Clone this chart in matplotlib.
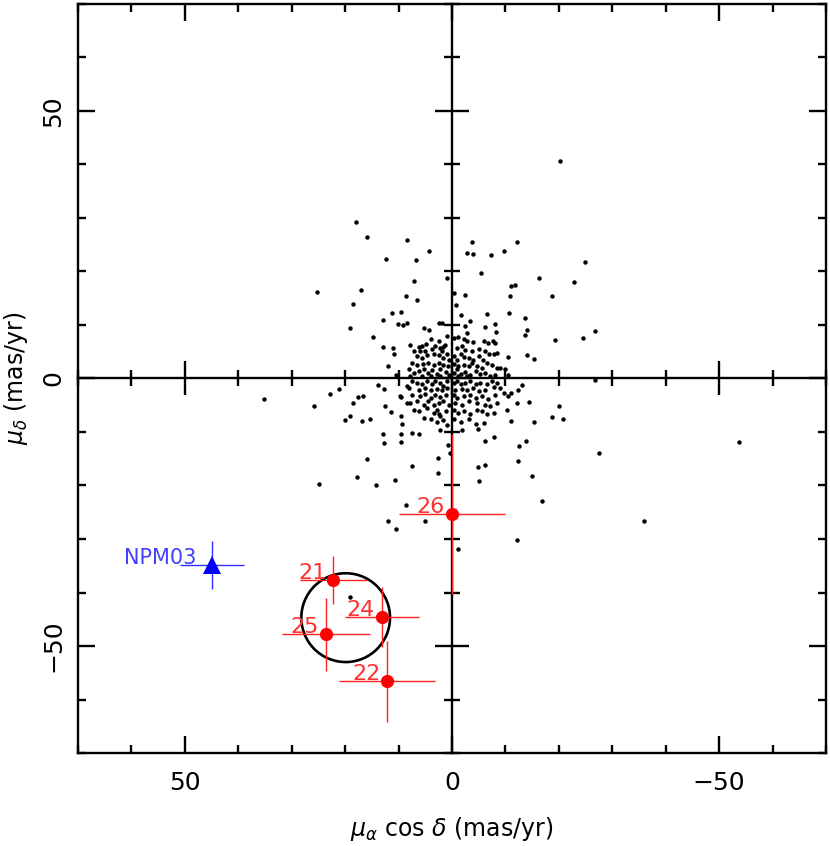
import numpy as np
import matplotlib
matplotlib.use('Agg')
from matplotlib import pyplot as plt
from matplotlib.patches import Circle
from matplotlib.ticker import MultipleLocator

# field stars (pmra cos dec, pmdec) in mas/yr
field_stars = [
    # outer field
    (17.9, 29.2), (16.0, 26.4), (8.5, 25.9), (4.3, 23.8), (12.3, 22.4), (6.7, 22.1),
    (1.0, 18.8), (7.1, 18.2), (25.3, 16.2), (17.0, 16.6), (-0.4, 16.0), (8.7, 15.4),
    (6.6, 14.7), (18.6, 13.9), (-0.7, 13.8), (11.3, 12.2), (9.5, 12.5), (13.0, 10.9),
    (10.1, 10.1), (9.2, 10.0), (8.5, 10.4), (19.1, 9.5), (5.2, 9.4), (4.3, 9.1),
    (2.4, 10.3), (1.9, 10.4), (14.8, 7.8), (12.9, 5.8), (11.0, 5.7), (10.8, 4.5),
    (11.9, 2.4), (10.5, 0.7),
    (-3.7, 25.5), (-2.8, 23.4), (-4.0, 23.3), (-7.3, 23.1), (-9.8, 23.9), (-12.1, 25.6),
    (-24.9, 21.8), (-5.4, 19.8), (-16.2, 18.8), (-22.8, 18.0), (-11.1, 17.2), (-11.7, 17.5),
    (-2.4, 15.6), (-10.8, 15.5), (-18.8, 15.5), (-1.6, 11.8), (-3.4, 10.8), (-6.6, 12.1),
    (-10.7, 12.2), (-13.6, 11.3), (-2.4, 9.9), (-6.2, 9.7), (-8.1, 10.1), (-8.3, 8.6),
    (-14.1, 9.0), (-13.7, 8.1), (-26.7, 8.8), (-24.6, 7.5), (-19.2, 7.2), (-2.9, 8.5),
    (-10.5, 4.1), (-14.0, 4.3), (-15.4, 3.7), (-10.0, 1.7), (-10.4, 0.6),
    (13.8, -1.3), (12.8, -1.9), (22.8, -2.9), (21.1, -2.0), (25.9, -5.1), (17.6, -3.4),
    (16.7, -3.2), (18.5, -4.5), (9.7, -3.2), (9.5, -3.5), (8.4, -1.4), (12.6, -5.2),
    (11.4, -6.2), (8.4, -4.5), (20.1, -7.7), (19.0, -7.1), (16.8, -7.9), (15.3, -7.5),
    (9.6, -7.1), (9.4, -8.5), (12.9, -10.4), (9.5, -10.3), (7.4, -10.2), (6.2, -10.4),
    (12.7, -12.1), (9.5, -11.8), (2.2, -9.6), (0.7, -12.4), (0.4, -13.9), (16.0, -15.1),
    (2.6, -14.9), (7.5, -16.4), (2.6, -17.6), (24.9, -19.8), (17.8, -18.5), (14.2, -20.0),
    (10.6, -18.9), (8.6, -23.6), (11.9, -26.6), (10.4, -28.2), (5.0, -26.6),
    (-26.7, -0.2), (-13.1, -1.2), (-12.4, -2.1), (-11.1, -2.7), (-10.5, -3.2), (-9.7, -2.7),
    (-14.4, -4.3), (-12.1, -4.5), (-20.0, -5.2), (-10.3, -5.9), (-18.7, -7.2), (-20.7, -7.5),
    (-15.3, -8.1), (-11.0, -8.0), (-4.9, -9.5), (-1.9, -9.6), (-7.9, -10.9), (-6.2, -11.7),
    (-13.9, -11.6), (-12.5, -12.6), (-27.6, -14.0), (-12.3, -15.4), (-6.2, -16.2),
    (-4.8, -16.5), (-5.0, -19.1), (-15.0, -18.2), (-16.9, -22.9), (-12.1, -30.2),
    (-1.2, -31.8), (-20.3, 40.7), (-53.7, -11.8), (35.1, -3.9), (-36.0, -26.7), (19.1, -40.9),
    # dense core
    (7.8, 6.3), (6.2, 5.8), (5.6, 6.0), (4.8, 6.5), (4.0, 7.3), (2.5, 7.0), (1.4, 6.3),
    (0.9, 7.9), (-0.3, 7.6), (-1.2, 7.7), (-2.2, 7.3), (-2.8, 7.0), (-4.0, 6.8), (-5.9, 7.1),
    (-6.8, 6.7), (-7.7, 7.1), (-8.1, 6.7), (-8.4, 4.8), (-7.8, 4.5), (5.9, 5.2), (7.2, 5.2),
    (5.0, 5.1), (3.7, 5.6), (3.1, 6.0), (2.2, 5.7), (1.9, 5.2), (1.6, 5.8), (-0.9, 5.7),
    (-1.9, 6.0), (-2.5, 5.4), (-3.7, 5.1), (-5.0, 5.6), (-6.2, 5.1), (-7.0, 4.5),
    (6.5, 4.2), (5.6, 3.9), (4.7, 4.4), (3.4, 4.6), (2.5, 4.4), (1.6, 3.9), (0.9, 4.5),
    (0.6, 3.5), (-0.3, 4.2), (-0.9, 3.5), (-1.6, 4.6), (-2.3, 4.0), (-3.1, 3.9), (-4.0, 3.5),
    (-5.0, 4.2), (-5.8, 3.5), (-6.5, 2.9), (-7.5, 2.6), (-8.4, 2.0), (-9.0, 2.0), (7.5, 2.9),
    (6.5, 2.5), (5.4, 2.7), (4.4, 2.9), (3.4, 2.5), (2.5, 2.9), (1.6, 2.6), (0.8, 2.3),
    (-0.3, 2.7), (-1.2, 2.3), (-2.2, 2.6), (-3.1, 2.3), (-3.7, 2.9), (-4.7, 2.3), (-5.6, 2.0),
    (8.1, 1.7), (7.2, 1.1), (6.2, 1.4), (5.3, 1.7), (4.5, 1.1), (3.7, 1.5), (2.8, 0.9),
    (2.2, 1.7), (1.2, 1.2), (0.6, 0.7), (-0.3, 1.1), (-0.9, 1.7), (-1.6, 0.9), (-2.5, 1.2),
    (-3.4, 0.7), (-4.4, 1.4), (-5.2, 0.9), (-6.2, 1.1), (-7.2, 0.4), (-8.1, 0.6), (7.8, 0.4),
    (5.6, 0.4), (4.0, 0.4), (2.2, 0.4), (-1.2, 0.4), (-2.8, 0.4),
    (7.5, -0.5), (6.5, -0.8), (5.6, -1.1), (4.7, -0.5), (3.7, -1.0), (3.1, -0.5), (2.2, -0.8),
    (1.6, -1.4), (0.9, -0.5), (-0.3, -0.8), (-0.9, -0.5), (-1.6, -1.1), (-2.5, -0.8),
    (-3.4, -0.5), (-4.4, -1.0), (-5.3, -0.8), (-6.5, -1.1), (-7.5, -0.5), (-8.4, -0.8),
    (8.1, -1.7), (6.2, -2.1), (5.0, -1.7), (4.0, -2.1), (2.8, -1.9), (1.9, -2.2), (0.9, -1.7),
    (-0.6, -2.1), (-1.9, -1.9), (-2.8, -2.2), (-4.0, -1.7), (-5.0, -2.4), (-6.2, -2.1),
    (-7.8, -1.6), (-9.0, -1.7),
    (7.5, -3.0), (5.9, -3.3), (5.0, -2.9), (4.0, -3.6), (3.1, -3.0), (2.2, -3.5), (1.2, -3.1),
    (-0.3, -3.0), (-0.9, -3.7), (-2.2, -3.3), (-3.4, -3.0), (-4.4, -3.6), (-5.6, -3.3),
    (-6.8, -3.9), (-8.1, -3.0), (7.8, -4.5), (6.5, -4.2), (5.3, -4.9), (4.4, -4.2), (3.4, -5.0),
    (2.5, -4.5), (1.6, -4.2), (0.6, -4.9), (-0.6, -4.5), (-1.9, -4.9), (-3.1, -4.2),
    (-4.7, -4.5), (-6.2, -4.9), (-7.2, -5.2), (-8.4, -4.5),
    (7.2, -5.8), (6.2, -6.1), (4.7, -5.5), (3.4, -6.4), (2.8, -5.8), (2.2, -7.0), (1.2, -6.1),
    (-0.3, -5.8), (-1.2, -6.4), (-2.2, -6.0), (-3.4, -6.7), (-4.7, -5.8), (-5.6, -6.1),
    (-6.5, -6.7), (-7.8, -6.4), (5.3, -7.3), (4.0, -7.6), (2.8, -8.1), (1.6, -7.8),
    (-0.3, -7.6), (-1.6, -8.1), (-3.1, -7.6), (-4.4, -8.5), (-5.9, -8.3), (0.9, -8.6),
    (2.5, -6.7),
]
field = np.array(field_stars)

# candidate members with errors
member_ids = ['21', '22', '24', '25', '26']
member_pmra = [22.2, 12.1, 13.1, 23.6, 0.0]
member_pmdec = [-37.7, -56.6, -44.5, -47.8, -25.3]
member_pmra_err = [6.3, 9.0, 7.0, 8.2, 10.0]
member_pmdec_err = [4.5, 7.6, 5.6, 6.8, 15.0]

# NPM reference object
npm_id = 'NPM03'
npm_pmra = 44.9
npm_pmdec = -34.9
npm_pmra_err = 6.0
npm_pmdec_err = 4.5

# selection circle
circ_center = (19.9, -44.7)
circ_radius = 8.3

fig = plt.figure(figsize=(8.3, 8.46), dpi=100)
rect = [78 / 830, 1 - 753 / 846, 748 / 830, 749 / 846]

# axes that only carries the cross through the origin
axc = fig.add_axes(rect)
ax = fig.add_axes(rect, sharex=axc, sharey=axc)
ax.patch.set_visible(False)

ax.set_xlim(70, -70)
ax.set_ylim(-70, 70)
ax.xaxis.set_major_locator(MultipleLocator(50))
ax.xaxis.set_minor_locator(MultipleLocator(10))
ax.yaxis.set_major_locator(MultipleLocator(50))
ax.yaxis.set_minor_locator(MultipleLocator(10))

for s in ['top', 'right']:
    axc.spines[s].set_visible(False)
axc.spines['left'].set_position(('data', 0))
axc.spines['bottom'].set_position(('data', 0))
for s in ['left', 'bottom']:
    axc.spines[s].set_linewidth(1.7)
axc.tick_params(which='major', direction='inout', length=24, width=1.7,
                labelbottom=False, labelleft=False)
axc.tick_params(which='minor', direction='inout', length=12, width=1.7)

for s in ax.spines.values():
    s.set_linewidth(1.7)
ax.tick_params(which='both', direction='in', top=True, right=True, width=1.7)
ax.tick_params(which='major', length=12, labelsize=18)
ax.tick_params(which='minor', length=6)
ax.tick_params(axis='x', pad=13)
ax.tick_params(axis='y', pad=9, labelrotation=90)
for lab in ax.get_yticklabels():
    lab.set_va('center')

# field stars
ax.plot(field[:, 0], field[:, 1], 'o', color='black', ms=3.2, mew=0)

# members
ax.errorbar(member_pmra, member_pmdec, xerr=member_pmra_err, yerr=member_pmdec_err,
            fmt='o', color='red', ecolor='#ff2020', elinewidth=1.0, ms=9.5, mew=0,
            capsize=0, zorder=5)
for name, x, y in zip(member_ids, member_pmra, member_pmdec):
    ax.text(x + 1.3, y + 0.2, name, color='#ff3030', fontsize=16,
            ha='right', va='baseline', zorder=6)

ax.errorbar([npm_pmra], [npm_pmdec], xerr=[npm_pmra_err], yerr=[npm_pmdec_err],
            fmt='^', color='blue', ecolor='#3030ff', elinewidth=1.0, ms=13, mew=0,
            capsize=0, zorder=5)
ax.text(npm_pmra + 3.0, npm_pmdec + 0.2, npm_id, color='#4040ff', fontsize=15,
        ha='right', va='baseline', zorder=6)

ax.add_patch(Circle(circ_center, circ_radius, fill=False, color='black', lw=1.9, zorder=4))

ax.set_xlabel(r'$\mu_\alpha$ cos $\delta$ (mas/yr)', fontsize=17, labelpad=14)
ax.set_ylabel(r'$\mu_\delta$ (mas/yr)', fontsize=17, labelpad=8)

fig.savefig('out.png', dpi=100)
